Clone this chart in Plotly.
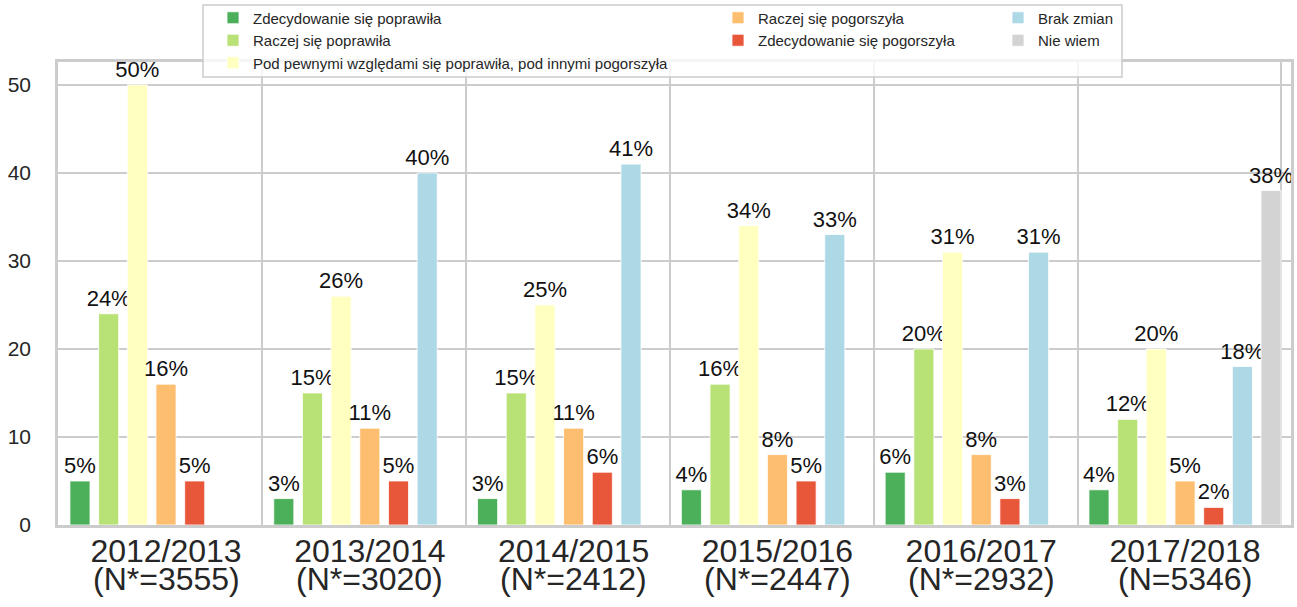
import plotly.graph_objects as go

# ---------------- data ----------------
years = ["2012/2013", "2013/2014", "2014/2015", "2015/2016", "2016/2017", "2017/2018"]
n_labels = ["(N*=3555)", "(N*=3020)", "(N*=2412)", "(N*=2447)", "(N*=2932)", "(N=5346)"]

series_names = [
    "Zdecydowanie się poprawiła",
    "Raczej się poprawiła",
    "Pod pewnymi względami się poprawiła, pod innymi pogorszyła",
    "Raczej się pogorszyła",
    "Zdecydowanie się pogorszyła",
    "Brak zmian",
    "Nie wiem",
]
zdec_popr = [5, 3, 3, 4, 6, 4]
racz_popr = [24, 15, 15, 16, 20, 12]
pod_pewnymi = [50, 26, 25, 34, 31, 20]
racz_pog = [16, 11, 11, 8, 8, 5]
zdec_pog = [5, 5, 6, 5, 3, 2]
brak_zmian = [None, 40, 41, 33, 31, 18]
nie_wiem = [None, None, None, None, None, 38]

series_values = [zdec_popr, racz_popr, pod_pewnymi, racz_pog, zdec_pog, brak_zmian, nie_wiem]
colors = ["#4caf5a", "#b9e276", "#ffffbf", "#fdbe6f", "#e9573b", "#add8e6", "#d3d3d3"]
legend_of = ["legend", "legend", "legend", "legend2", "legend2", "legend3", "legend3"]

FONT = "Liberation Sans, Arial, sans-serif"
TXT = "#262626"
GRID = "#cccccc"

# plot area geometry (px)
W, H = 1297, 607
L, R, T, B = 58, 6, 62, 82
PW, PH = W - L - R, H - T - B

x_idx = list(range(len(years)))

fig = go.Figure()
for name, vals, col, lg in zip(series_names, series_values, colors, legend_of):
    fig.add_trace(go.Bar(
        x=x_idx, y=vals, name=name,
        marker=dict(color=col, line=dict(color="white", width=0.8)),
        text=[f"{v}%" if v is not None else "" for v in vals],
        textposition="outside",
        textfont=dict(family=FONT, size=22, color="#111111"),
        constraintext="none",
        cliponaxis=False,
        legend=lg,
        legendgroup=name,
    ))

def px_x(p):
    return (p - L) / PW

def px_y(p):
    return (H - B - p) / PH

leg_common = dict(
    font=dict(family=FONT, size=15, color=TXT),
    bgcolor="rgba(0,0,0,0)",
    borderwidth=0,
    orientation="v",
    xanchor="left",
    yanchor="top",
    tracegroupgap=0,
    itemwidth=30,
)

fig.update_layout(
    width=W, height=H,
    margin=dict(l=L, r=R, t=T, b=B, autoexpand=False),
    paper_bgcolor="white",
    plot_bgcolor="white",
    barmode="group",
    bargap=0.015,
    bargroupgap=0.3,
    font=dict(family=FONT, color=TXT),
    showlegend=True,
    legend=dict(x=px_x(213), y=px_y(1.5), **leg_common),
    legend2=dict(x=px_x(718), y=px_y(1.5), **leg_common),
    legend3=dict(x=px_x(998), y=px_y(1.5), **leg_common),
    xaxis=dict(
        range=[-0.53, 5.52],
        tickmode="array",
        tickvals=x_idx,
        ticktext=years,
        tickfont=dict(family=FONT, size=32, color=TXT),
        showgrid=False,
        ticks="",
        ticklabelstandoff=-4,
        showline=True, linecolor=GRID, linewidth=2.5, mirror=True,
        zeroline=False,
        minor=dict(tick0=0.473, dtick=1, showgrid=True, gridcolor=GRID, gridwidth=2, ticks=""),
    ),
    yaxis=dict(
        range=[0, 52.6],
        tickvals=[0, 10, 20, 30, 40, 50],
        tickfont=dict(family=FONT, size=21, color=TXT),
        showgrid=True, gridcolor=GRID, gridwidth=2,
        ticks="",
        ticklabelstandoff=20,
        showline=True, linecolor=GRID, linewidth=2.5, mirror=True,
        zeroline=False,
    ),
)

# second line of category labels
for i, lab in zip(x_idx, n_labels):
    fig.add_annotation(
        x=i, xref="x", y=px_y(559), yref="paper",
        text=lab, showarrow=False, xanchor="center", yanchor="top",
        font=dict(family=FONT, size=32, color=TXT),
    )

# legend frame
fig.add_shape(
    type="rect", xref="paper", yref="paper",
    x0=px_x(203), x1=px_x(1122), y0=px_y(77), y1=px_y(5),
    fillcolor="rgba(255,255,255,0.8)",
    line=dict(color=GRID, width=1.5),
    layer="above",
)

fig.write_html(
    "out.html",
    config={"displayModeBar": False},
    post_script="document.body.style.margin='0';document.body.style.padding='0';",
)
